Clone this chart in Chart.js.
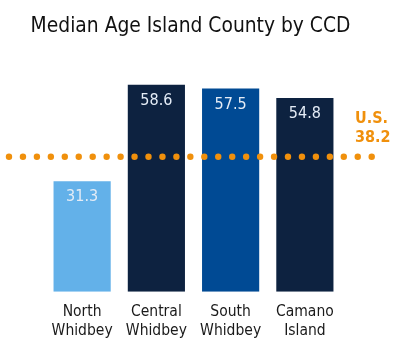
<!DOCTYPE html>
<html>
<head>
<meta charset="utf-8">
<script src="https://cdn.jsdelivr.net/npm/chart.js@4"></script>
<style>
    html, body { margin: 0; padding: 0; background: #ffffff; }
    #wrap { width: 400px; height: 348px; }
</style>
</head>
<body>
<div id="wrap"><canvas id="ageChart"></canvas></div>
<script>
const categories = [['North', 'Whidbey'], ['Central', 'Whidbey'], ['South', 'Whidbey'], ['Camano', 'Island']];
const medianAges = [31.3, 58.6, 57.5, 54.8];
const barColors = ['#63b1e9', '#0d2240', '#004a94', '#0d2240'];
const usMedian = 38.2;
const usLabel = ['U.S.', '38.2'];
const titleText = 'Median Age Island County by CCD';

const fontFamily = "DejaVu Sans Condensed, DejaVu Sans, sans-serif";
const orange = '#f0900c';

// title drawn by hand so it is not squeezed to the padded chart width
const titlePlugin = {
    id: 'titlePlugin',
    afterDraw(chart) {
        const ctx = chart.ctx;
        ctx.save();
        ctx.font = '20.8px ' + fontFamily;
        ctx.fillStyle = '#111111';
        ctx.textAlign = 'center';
        ctx.textBaseline = 'alphabetic';
        ctx.fillText(titleText, chart.width / 2 - 9.5, 32);
        ctx.restore();
    }
};

// value labels inside the top of each bar
const valueLabels = {
    id: 'valueLabels',
    afterDatasetsDraw(chart) {
        const ctx = chart.ctx;
        const meta = chart.getDatasetMeta(0);
        ctx.save();
        ctx.font = '16px ' + fontFamily;
        ctx.fillStyle = '#e4ecf6';
        ctx.textAlign = 'center';
        ctx.textBaseline = 'middle';
        meta.data.forEach(function(bar, i) {
            ctx.fillText(medianAges[i].toFixed(1), bar.x, bar.y + 16);
        });
        ctx.restore();
    }
};

// dotted U.S. reference line, drawn over the bars
const usLine = {
    id: 'usLine',
    afterDatasetsDraw(chart) {
        const ctx = chart.ctx;
        const area = chart.chartArea;
        const y = chart.scales.y.getPixelForValue(usMedian);
        ctx.save();
        ctx.fillStyle = orange;
        for (let x = area.left - 36; x <= area.right + 32; x += 13.95) {
            ctx.beginPath();
            ctx.arc(x, y, 3.2, 0, Math.PI * 2);
            ctx.fill();
        }
        ctx.font = 'bold 16px ' + fontFamily;
        ctx.textAlign = 'left';
        ctx.textBaseline = 'middle';
        ctx.fillText(usLabel[0], area.right + 13, y - 38);
        ctx.fillText(usLabel[1], area.right + 13, y - 19);
        ctx.restore();
    }
};

new Chart(document.getElementById('ageChart'), {
    type: 'bar',
    data: {
        labels: categories,
        datasets: [{
            data: medianAges,
            backgroundColor: barColors,
            borderWidth: 0,
            barPercentage: 0.77,
            categoryPercentage: 1.0
        }]
    },
    options: {
        responsive: true,
        maintainAspectRatio: false,
        animation: false,
        layout: { padding: { left: 45, right: 58, top: 62, bottom: 5 } },
        plugins: {
            legend: { display: false },
            tooltip: { enabled: false },
            title: { display: false }
        },
        scales: {
            x: {
                grid: { display: false },
                border: { display: false },
                ticks: {
                    color: '#1a1a1a',
                    font: { family: fontFamily, size: 15.5 },
                    padding: 3,
                    maxRotation: 0
                }
            },
            y: {
                display: false,
                min: 0,
                max: 65
            }
        }
    },
    plugins: [valueLabels, usLine, titlePlugin]
});
</script>
</body>
</html>
